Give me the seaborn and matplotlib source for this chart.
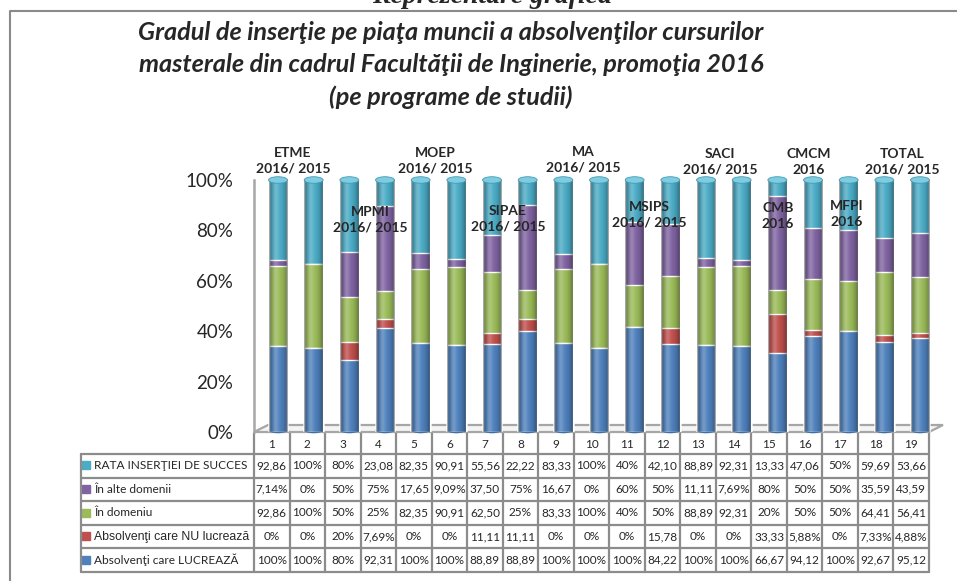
import numpy as np
import pandas as pd
import seaborn as sns
import matplotlib.pyplot as plt
from matplotlib.patches import Ellipse, Polygon

# Data
programs = [str(i) for i in range(1, 20)]
series = ["Absolvenţi care LUCREAZĂ", "Absolvenţi care NU lucrează", "În domeniu",
          "În alte domenii", "RATA INSERŢIEI DE SUCCES"]
lucreaza = [100, 100, 80, 92.31, 100, 100, 88.89, 88.89, 100, 100, 100, 84.22, 100, 100, 66.67, 94.12, 100, 92.67, 95.12]
nu_lucreaza = [0, 0, 20, 7.69, 0, 0, 11.11, 11.11, 0, 0, 0, 15.78, 0, 0, 33.33, 5.88, 0, 7.33, 4.88]
in_domeniu = [92.86, 100, 50, 25, 82.35, 90.91, 62.50, 25, 83.33, 100, 40, 50, 88.89, 92.31, 20, 50, 50, 64.41, 56.41]
alte_domenii = [7.14, 0, 50, 75, 17.65, 9.09, 37.50, 75, 16.67, 0, 60, 50, 11.11, 7.69, 80, 50, 50, 35.59, 43.59]
rata_succes = [92.86, 100, 80, 23.08, 82.35, 90.91, 55.56, 22.22, 83.33, 100, 40, 42.10, 88.89, 92.31, 13.33, 47.06, 50, 59.69, 53.66]
colors = ["#4F81BD", "#C0504D", "#9BBB59", "#8064A2", "#4BACC6"]

group_labels = ["ETME\n2016/ 2015", "MPMI\n2016/ 2015", "MOEP\n2016/ 2015", "SIPAE\n2016/ 2015",
                "MA\n2016/ 2015", "MSIPS\n2016/ 2015", "SACI\n2016/ 2015", "CMB\n2016",
                "CMCM\n2016", "MFPI\n2016", "TOTAL\n2016/ 2015"]
# label anchor positions in pixels (x, y)
group_pos = [(293, 161), (370, 220), (435, 161), (508, 219), (583, 160), (649, 215),
             (720, 162), (778, 216), (809, 162), (847, 214), (902, 162)]

df = pd.DataFrame(dict(zip(series, [lucreaza, nu_lucreaza, in_domeniu, alte_domenii, rata_succes])),
                  index=programs)
share = df.div(df.sum(axis=1), axis=0) * 100
cum = share.cumsum(axis=1)


def fmt(v):
    if float(v).is_integer():
        return f"{int(v)}%"
    s = f"{v:.2f}".replace(".", ",")
    return s + "%" if v < 10 else s


sns.set_style("white")
plt.rcParams["font.family"] = ["Lato", "DejaVu Sans"]

W, H = 957, 581
fig = plt.figure(figsize=(W / 100, H / 100), dpi=100)

# pixel layout of plot area
px_l, px_r, px_b, px_t = 254, 943, 432, 140
bar0, step = 278, 35.67
ypx = 2.52
ax = fig.add_axes([px_l / W, (H - px_b) / H, (px_r - px_l) / W, (px_b - px_t) / H], zorder=2)
ax.patch.set_alpha(0)

bw = 0.53
# stacked bars: draw cumulative totals from the top series down
for k in range(len(series) - 1, -1, -1):
    sns.barplot(x=programs, y=cum.iloc[:, k].values, color=colors[k], width=bw,
                saturation=1, errorbar=None, ax=ax, zorder=3)

# cylinder shading
g = np.linspace(-1, 1, 64)
dark = np.zeros((1, 64, 4))
dark[..., 3] = 0.38 * np.abs(g) ** 2.2
light = np.ones((1, 64, 4))
light[..., 3] = 0.22 * np.exp(-((g + 0.3) / 0.3) ** 2)
for i in range(len(programs)):
    for img in (dark, light):
        ax.imshow(img, extent=(i - bw / 2, i + bw / 2, 0, 100), aspect="auto", zorder=4)
    ax.add_patch(Ellipse((i, 100), bw, 2.6, facecolor="#7fcbe0", edgecolor="#3f9db6",
                         lw=0.6, zorder=5))
    ax.add_patch(Ellipse((i, 0.8), bw, 2.6, facecolor="#3f6fa8", edgecolor="none",
                         zorder=2.5, clip_on=False))

xl = (px_l - bar0) / step
xr = 18 + (px_r - 920) / step
ax.set_xlim(xl, xr)
ax.set_ylim(0, (px_b - px_t) / ypx)

# 3D floor
floor = Polygon([(xl, 0), (xl + 14 / step, 7 / ypx), (xr, 7 / ypx), (xr - 14 / step, 0)],
                closed=True, facecolor="#f4f4f4", edgecolor="#a6a6a6", lw=1.6,
                zorder=1, clip_on=False)
ax.add_patch(floor)

ax.set_yticks([0, 20, 40, 60, 80, 100])
ax.set_yticklabels([f"{v}%" for v in [0, 20, 40, 60, 80, 100]], fontsize=13.5)
ax.tick_params(axis="y", length=0, pad=15)
ax.set_xticks([])
ax.set_xlabel("")
for s in ["top", "right", "bottom"]:
    ax.spines[s].set_visible(False)
ax.spines["left"].set_color("#a6a6a6")
ax.spines["left"].set_linewidth(1.8)
ax.spines["left"].set_bounds(0, 100)

# group labels above the bars
for lab, (px, py) in zip(group_labels, group_pos):
    ax.text((px - bar0) / step, (px_b - py) / ypx, lab, ha="center", va="center",
            fontsize=10, fontweight="bold", linespacing=1.35, zorder=6)

# overlay in pixel coordinates: frame, titles, data table
ov = fig.add_axes([0, 0, 1, 1], zorder=1)
ov.set_xlim(0, W)
ov.set_ylim(H, 0)
ov.axis("off")

ov.plot([10, 10, W], [H, 11, 11], color="#8a8a8a", lw=1.5)
ov.text(492, 3, "Reprezentare grafică", ha="center", va="baseline", fontsize=20,
        fontweight="bold", fontstyle="italic", family=["Liberation Serif", "DejaVu Serif"])
for txt, y in zip(["Gradul de inserţie pe piaţa muncii a absolvenţilor cursurilor",
                   "masterale din cadrul Facultăţii de Inginerie, promoţia 2016",
                   "(pe programe de studii)"], [32, 65, 97]):
    ov.text(451, y, txt, ha="center", va="center", fontsize=18.2, fontweight="bold",
            fontstyle="italic")

col_l, col_r, lab_l = 254, 929, 81
cw = (col_r - col_l) / len(programs)
head_t, row_t, row_b = 433, 454, 572
rh = (row_b - row_t) / len(series)
lc = "#8c8c8c"

for j in range(len(programs) + 1):
    x = col_l + j * cw
    ov.plot([x, x], [head_t, row_b], color=lc, lw=1.6)
ov.plot([lab_l, lab_l], [row_t, row_b], color=lc, lw=1.6)
for k in range(len(series) + 1):
    y = row_t + k * rh
    ov.plot([lab_l, col_r], [y, y], color=lc, lw=1.6)

for j, p in enumerate(programs):
    ov.text(col_l + (j + 0.5) * cw, (head_t + row_t) / 2 + 1, p, ha="center", va="center",
            fontsize=8.5)

for r, k in enumerate(range(len(series) - 1, -1, -1)):
    yc = row_t + (r + 0.5) * rh
    ov.add_patch(plt.Rectangle((82, yc - 4.5), 8, 8, color=colors[k]))
    fam = ["Liberation Sans", "DejaVu Sans"] if k == 1 else ["Lato", "DejaVu Sans"]
    ov.text(94, yc, series[k], ha="left", va="center", fontsize=8.8 if k == 1 else 8.6,
            family=fam)
    for j, v in enumerate(df.iloc[:, k].values):
        ov.text(col_l + (j + 0.5) * cw, yc, fmt(v), ha="center", va="center", fontsize=8.5)

fig.savefig("out.png", dpi=100, facecolor="white")
